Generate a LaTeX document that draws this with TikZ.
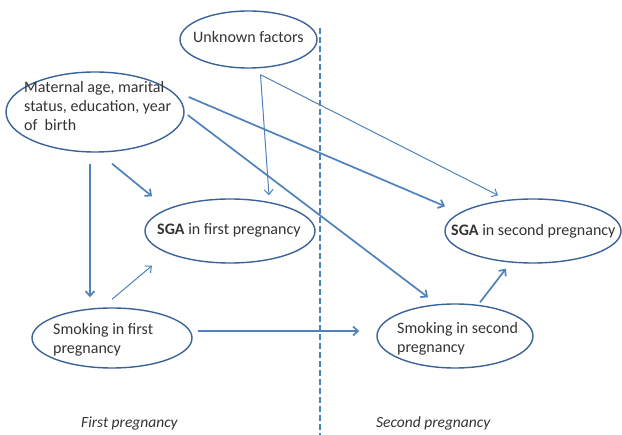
\documentclass[tikz,border=0pt]{standalone}
\usepackage{fontspec}
\setmainfont{Carlito}
\usetikzlibrary{shapes.geometric,arrows.meta}
\definecolor{edge}{HTML}{3A639A}
\definecolor{arr}{HTML}{4F81BD}
\begin{document}
\begin{tikzpicture}[x=1pt,y=-1pt,
  ell/.style={draw=edge,line width=1.4pt,ellipse,inner sep=0pt},
  lbl/.style={font=\fontsize{16}{19}\selectfont,text=black!80,inner sep=0pt,align=left},
  thick arr/.style={draw=arr,line width=1.7pt,-{Straight Barb[length=5pt,width=9pt]}},
  thin arr/.style={draw=arr,line width=1pt,-{Straight Barb[length=5pt,width=9pt]}}]
\useasboundingbox (0,0) rectangle (622,435);
% dashed divider
\coordinate (dtop) at (320,28);
\coordinate (dbot) at (320,435);
\draw[arr,line width=2pt,dash pattern=on 6pt off 3pt] (dtop) -- (dbot);
% ellipses
\node[ell,minimum width=137pt,minimum height=57pt] (unk) at (248.5,39.5) {};
\node[ell,minimum width=178pt,minimum height=80pt] (mat) at (95,112) {};
\node[ell,minimum width=170pt,minimum height=64pt] (sga1) at (230,231) {};
\node[ell,minimum width=160pt,minimum height=60pt] (smk1) at (112,338) {};
\node[ell,minimum width=176pt,minimum height=64pt] (sga2) at (533,231) {};
\node[ell,minimum width=156pt,minimum height=64pt] (smk2) at (455,336) {};
% texts
\node[lbl,anchor=west] (unkT) at (193,37) {Unknown factors};
\node[lbl,anchor=west] (matT) at (24,106) {Maternal age, marital\\status, education, year\\of\ \ birth};
\node[lbl,anchor=west] (sga1T) at (157,230) {\textbf{SGA} in first pregnancy};
\node[lbl,anchor=west] (smk1T) at (53,340) {Smoking in first\\pregnancy};
\node[lbl,anchor=west] (sga2T) at (451,231) {\textbf{SGA} in second pregnancy};
\node[lbl,anchor=west] (smk2T) at (397,339) {Smoking in second\\pregnancy};
\node[lbl,anchor=west,font=\fontsize{15.5}{17}\selectfont\itshape] (fp) at (81,423) {First pregnancy};
\node[lbl,anchor=west,font=\fontsize{15.5}{17}\selectfont\itshape] (sp) at (376,423) {Second pregnancy};
% arrows
\draw[thick arr] ([xshift=-5pt,yshift=-11pt]mat.south) -- ([xshift=-22pt,yshift=10pt]smk1.north);
\draw[thick arr] ([xshift=17pt,yshift=-11pt]mat.south) -- ([xshift=-78pt,yshift=2pt]sga1.north);
\draw[thin arr] ([yshift=8pt]smk1.north) -- ([xshift=-78pt,yshift=-2pt]sga1.south);
\draw[thick arr] ([xshift=5pt,yshift=7pt]smk1.east) -- ([xshift=-17pt,yshift=5pt]smk2.west);
\draw[thick arr] ([xshift=4pt,yshift=15pt]mat.east) -- ([xshift=-88pt,yshift=-8pt]sga2.north);
\draw[thick arr] ([xshift=3pt,yshift=-3pt]mat.east) -- ([xshift=-27pt,yshift=6pt]smk2.north);
\draw[thin arr] ([xshift=12pt,yshift=-6pt]unk.south) -- ([xshift=39pt,yshift=3pt]sga1.north);
\draw[thin arr] ([xshift=12pt,yshift=-6pt]unk.south) -- ([xshift=-35pt,yshift=3pt]sga2.north);
\draw[thick arr] ([xshift=25pt,yshift=1pt]smk2.north) -- ([xshift=-27pt,yshift=-5pt]sga2.south);
\end{tikzpicture}
\end{document}
